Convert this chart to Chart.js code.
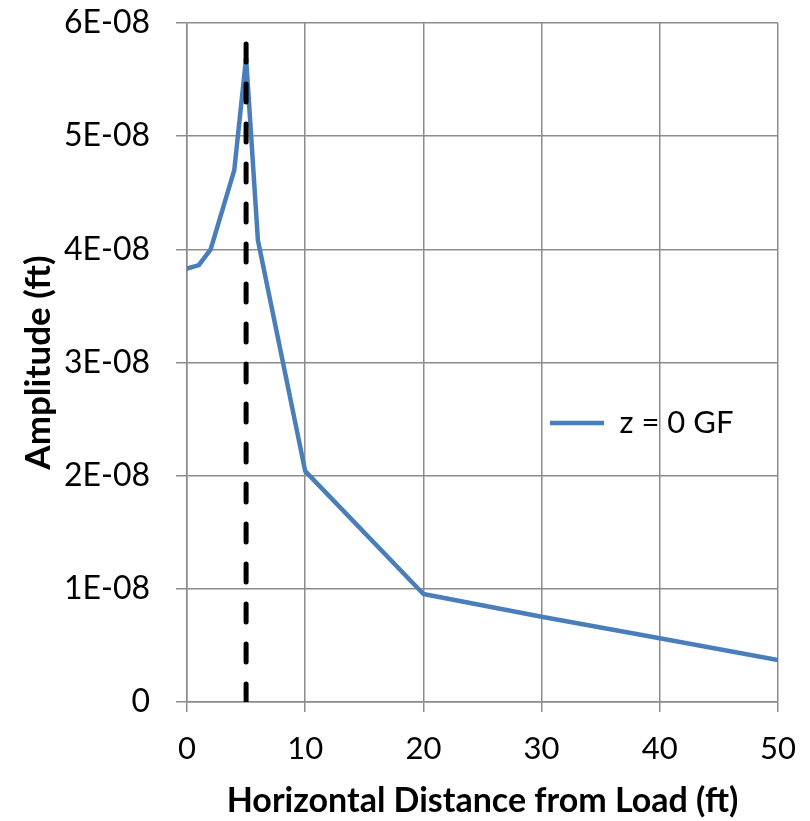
<!DOCTYPE html>
<html>
<head>
<meta charset="utf-8">
<script src="https://cdn.jsdelivr.net/npm/chart.js@4/dist/chart.umd.min.js"></script>
<style>
html,body{margin:0;padding:0;background:#fff;}
#wrap{width:810px;height:821px;position:relative;}
</style>
</head>
<body>
<div id="wrap"><canvas id="c" width="810" height="821"></canvas></div>
<script>
// Data
const distanceFt = [0, 1, 2, 4, 5, 6, 10, 20, 30, 40, 50];
const amplitudeFt = [3.83e-8, 3.86e-8, 4.0e-8, 4.70e-8, 5.69e-8, 4.08e-8, 2.04e-8, 0.954e-8, 0.754e-8, 0.563e-8, 0.371e-8];
const loadLineX = [5, 5];
const loadLineY = [0, 5.85e-8];
const yTickLabels = ['0', '1E-08', '2E-08', '3E-08', '4E-08', '5E-08', '6E-08'];
const xTickLabels = ['0', '10', '20', '30', '40', '50'];
const seriesName = 'z = 0 GF';
const xTitle = 'Horizontal Distance from Load (ft)';
const yTitle = 'Amplitude (ft)';

const mainPoints = distanceFt.map((x, i) => ({x: x, y: amplitudeFt[i]}));
const loadPoints = loadLineX.map((x, i) => ({x: x, y: loadLineY[i]}));

const GRID = '#8c8c8c';
const FONT = 'Lato, "Open Sans", sans-serif';
const AREA = {left: 187, right: 778, top: 23, bottom: 702};

const legendMover = {
  id: 'legendMover',
  afterLayout(chart) {
    const lg = chart.legend;
    if (!lg) return;
    lg.left = 550; lg.right = 770; lg.top = 401; lg.bottom = 445;
    lg.width = lg.right - lg.left; lg.height = lg.bottom - lg.top;
  }
};

new Chart(document.getElementById('c'), {
  type: 'scatter',
  data: {
    datasets: [
      {
        label: seriesName,
        data: mainPoints,
        showLine: true,
        borderColor: '#4a7ebb',
        backgroundColor: '#4a7ebb',
        borderWidth: 4.5,
        borderCapStyle: 'round',
        borderJoinStyle: 'round',
        pointRadius: 0,
        pointHoverRadius: 0,
        tension: 0,
        order: 2
      },
      {
        label: 'load',
        data: loadPoints,
        showLine: true,
        borderColor: '#000000',
        backgroundColor: '#000000',
        borderWidth: 5,
        borderDash: [18, 22],
        borderCapStyle: 'round',
        pointRadius: 0,
        pointHoverRadius: 0,
        order: 1
      }
    ]
  },
  options: {
    responsive: false,
    animation: false,
    devicePixelRatio: 1,
    layout: {padding: {left: 0, right: 810 - AREA.right, top: AREA.top, bottom: 0}},
    plugins: {
      tooltip: {enabled: false},
      legend: {
        display: true,
        position: 'chartArea',
        align: 'center',
        labels: {
          filter: (item) => item.datasetIndex === 0,
          usePointStyle: true,
          pointStyle: 'line',
          pointStyleWidth: 54,
          boxHeight: 4,
          padding: 0,
          color: '#000',
          font: {family: FONT, size: 31}
        }
      }
    },
    scales: {
      x: {
        type: 'linear',
        min: 0, max: 50,
        afterFit: (s) => { s.height = 821 - AREA.bottom; s.paddingLeft = 0; s.paddingRight = 0; },
        ticks: {
          stepSize: 10,
          color: '#000',
          padding: 18,
          maxRotation: 0,
          font: {family: FONT, size: 31},
          callback: (v, i) => xTickLabels[i]
        },
        grid: {color: GRID, lineWidth: 1.5, tickLength: 10, tickColor: GRID},
        border: {color: GRID, width: 1.5},
        title: {
          display: true, text: xTitle, color: '#000',
          font: {family: FONT, size: 34, weight: 'bold'},
          padding: {top: 4, bottom: 0}
        }
      },
      y: {
        type: 'linear',
        min: 0, max: 6e-8,
        afterFit: (s) => { s.width = AREA.left; s.paddingTop = 0; s.paddingBottom = 0; },
        ticks: {
          stepSize: 1e-8,
          color: '#000',
          padding: 26,
          font: {family: FONT, size: 32},
          callback: (v, i) => yTickLabels[i]
        },
        grid: {color: GRID, lineWidth: 1.5, tickLength: 11, tickColor: GRID},
        border: {color: GRID, width: 1.5},
        title: {
          display: true, text: yTitle, color: '#000',
          font: {family: FONT, size: 35, weight: 'bold'},
          padding: {top: 18, bottom: 0}
        }
      }
    }
  },
  plugins: [legendMover]
});
</script>
</body>
</html>
